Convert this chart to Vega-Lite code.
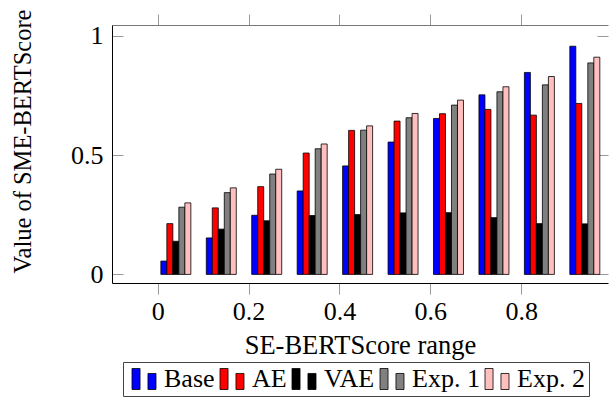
{
  "$schema": "https://vega.github.io/schema/vega-lite/v6.json",
  "width": 496,
  "height": 258,
  "autosize": {"type": "none"},
  "padding": {"left": 112, "top": 25, "right": 1, "bottom": 120},
  "background": "white",
  "config": {"view": {"stroke": null}, "font": "Liberation Serif",
    "axis": {"labelFont": "Liberation Serif", "titleFont": "Liberation Serif"},
    "legend": {"labelFont": "Liberation Serif"}},
  "data": {"values": [
    {"x": 0.04, "series": "Base", "v": 0.056}, {"x": 0.14, "series": "Base", "v": 0.153}, {"x": 0.24, "series": "Base", "v": 0.248}, {"x": 0.34, "series": "Base", "v": 0.350}, {"x": 0.44, "series": "Base", "v": 0.455}, {"x": 0.54, "series": "Base", "v": 0.555}, {"x": 0.64, "series": "Base", "v": 0.654}, {"x": 0.74, "series": "Base", "v": 0.753}, {"x": 0.84, "series": "Base", "v": 0.847}, {"x": 0.94, "series": "Base", "v": 0.957},
    {"x": 0.04, "series": "AE", "v": 0.213}, {"x": 0.14, "series": "AE", "v": 0.279}, {"x": 0.24, "series": "AE", "v": 0.368}, {"x": 0.34, "series": "AE", "v": 0.509}, {"x": 0.44, "series": "AE", "v": 0.604}, {"x": 0.54, "series": "AE", "v": 0.643}, {"x": 0.64, "series": "AE", "v": 0.674}, {"x": 0.74, "series": "AE", "v": 0.692}, {"x": 0.84, "series": "AE", "v": 0.668}, {"x": 0.94, "series": "AE", "v": 0.717},
    {"x": 0.04, "series": "VAE", "v": 0.139}, {"x": 0.14, "series": "VAE", "v": 0.190}, {"x": 0.24, "series": "VAE", "v": 0.225}, {"x": 0.34, "series": "VAE", "v": 0.247}, {"x": 0.44, "series": "VAE", "v": 0.251}, {"x": 0.54, "series": "VAE", "v": 0.258}, {"x": 0.64, "series": "VAE", "v": 0.259}, {"x": 0.74, "series": "VAE", "v": 0.238}, {"x": 0.84, "series": "VAE", "v": 0.213}, {"x": 0.94, "series": "VAE", "v": 0.212},
    {"x": 0.04, "series": "Exp. 1", "v": 0.282}, {"x": 0.14, "series": "Exp. 1", "v": 0.343}, {"x": 0.24, "series": "Exp. 1", "v": 0.421}, {"x": 0.34, "series": "Exp. 1", "v": 0.527}, {"x": 0.44, "series": "Exp. 1", "v": 0.605}, {"x": 0.54, "series": "Exp. 1", "v": 0.657}, {"x": 0.64, "series": "Exp. 1", "v": 0.710}, {"x": 0.74, "series": "Exp. 1", "v": 0.766}, {"x": 0.84, "series": "Exp. 1", "v": 0.795}, {"x": 0.94, "series": "Exp. 1", "v": 0.887},
    {"x": 0.04, "series": "Exp. 2", "v": 0.300}, {"x": 0.14, "series": "Exp. 2", "v": 0.363}, {"x": 0.24, "series": "Exp. 2", "v": 0.441}, {"x": 0.34, "series": "Exp. 2", "v": 0.547}, {"x": 0.44, "series": "Exp. 2", "v": 0.623}, {"x": 0.54, "series": "Exp. 2", "v": 0.675}, {"x": 0.64, "series": "Exp. 2", "v": 0.731}, {"x": 0.74, "series": "Exp. 2", "v": 0.787}, {"x": 0.84, "series": "Exp. 2", "v": 0.830}, {"x": 0.94, "series": "Exp. 2", "v": 0.911}
  ]},
  "layer": [
    {
      "encoding": {
        "x": {"field": "x", "type": "quantitative",
          "scale": {"domain": [-0.0895, 0.98], "nice": false, "zero": false},
          "axis": {"orient": "bottom", "values": [0, 0.2, 0.4, 0.6, 0.8], "format": "~g", "grid": false,
            "tickSize": 11, "tickColor": "#999999", "domainColor": "black", "domainWidth": 1,
            "labelFont": "Liberation Serif", "labelFontSize": 26, "labelColor": "black", "labelPadding": 4,
            "title": "SE-BERTScore range", "titleFont": "Liberation Serif", "titleFontSize": 26.5, "titleFontWeight": "normal", "titleColor": "black", "titlePadding": 8}},
        "y": {"field": "v", "type": "quantitative", "stack": null,
          "scale": {"domain": [-0.036, 1.046], "nice": false, "zero": false},
          "axis": {"orient": "left", "values": [0, 0.5, 1], "format": "~g", "grid": false,
            "tickSize": -11, "tickColor": "#999999", "domainColor": "black", "domainWidth": 1,
            "labelFont": "Liberation Serif", "labelFontSize": 26, "labelColor": "black", "labelPadding": 20,
            "title": "Value of SME-BERTScore", "titleFont": "Liberation Serif", "titleFontSize": 24.5, "titleFontWeight": "normal", "titleColor": "black",
            "titleX": -82, "titleY": 116, "titleBaseline": "alphabetic", "titleAngle": 270}},
        "color": {"field": "series", "type": "nominal", "sort": ["Base", "AE", "VAE", "Exp. 1", "Exp. 2"],
          "scale": {"domain": ["Base", "AE", "VAE", "Exp. 1", "Exp. 2"], "range": ["#0000ff", "#ff0000", "#000000", "#808080", "#ffbfbf"]},
          "legend": {"orient": "none", "legendX": 11, "legendY": 337, "direction": "horizontal", "title": null,
            "symbolType": "M-1,-0.875H-0.33V0.875H-1Z M0.33,-0.46H1V0.875H0.33Z", "symbolSize": 576,
            "symbolStrokeColor": "black", "symbolStrokeWidth": 0.8, "symbolOpacity": 1, "symbolOffset": 4,
            "labelFont": "Liberation Serif", "labelFontSize": 26, "labelColor": "black", "labelOffset": 7,
            "columnPadding": 0, "strokeColor": "#444444", "fillColor": "white", "padding": 4}}
      },
      "layer": [
        {"transform": [{"filter": "datum.series === 'Base'"}],
         "mark": {"type": "bar", "width": 6, "xOffset": -12, "stroke": "black", "strokeWidth": 0.8}},
        {"transform": [{"filter": "datum.series === 'AE'"}],
         "mark": {"type": "bar", "width": 6, "xOffset": -6, "stroke": "black", "strokeWidth": 0.8}},
        {"transform": [{"filter": "datum.series === 'VAE'"}],
         "mark": {"type": "bar", "width": 6, "xOffset": 0, "stroke": "black", "strokeWidth": 0.8}},
        {"transform": [{"filter": "datum.series === 'Exp. 1'"}],
         "mark": {"type": "bar", "width": 6, "xOffset": 6, "stroke": "black", "strokeWidth": 0.8}},
        {"transform": [{"filter": "datum.series === 'Exp. 2'"}],
         "mark": {"type": "bar", "width": 6, "xOffset": 12, "stroke": "black", "strokeWidth": 0.8}}
      ]
    },
    {
      "mark": {"type": "point", "opacity": 0},
      "encoding": {
        "x": {"field": "x", "type": "quantitative",
          "scale": {"domain": [-0.0895, 0.98], "nice": false, "zero": false},
          "axis": {"orient": "top", "values": [0, 0.2, 0.4, 0.6, 0.8], "labels": false, "grid": false, "title": null,
            "tickSize": 11, "tickColor": "#999999", "domainColor": "#777777", "domainWidth": 1}},
        "y": {"field": "v", "type": "quantitative",
          "scale": {"domain": [-0.036, 1.046], "nice": false, "zero": false},
          "axis": {"orient": "right", "values": [0, 0.5, 1], "labels": false, "grid": false, "title": null, "domain": false,
            "tickSize": -11, "tickColor": "#999999"}}
      }
    }
  ],
  "resolve": {"axis": {"x": "independent", "y": "independent"}}
}
